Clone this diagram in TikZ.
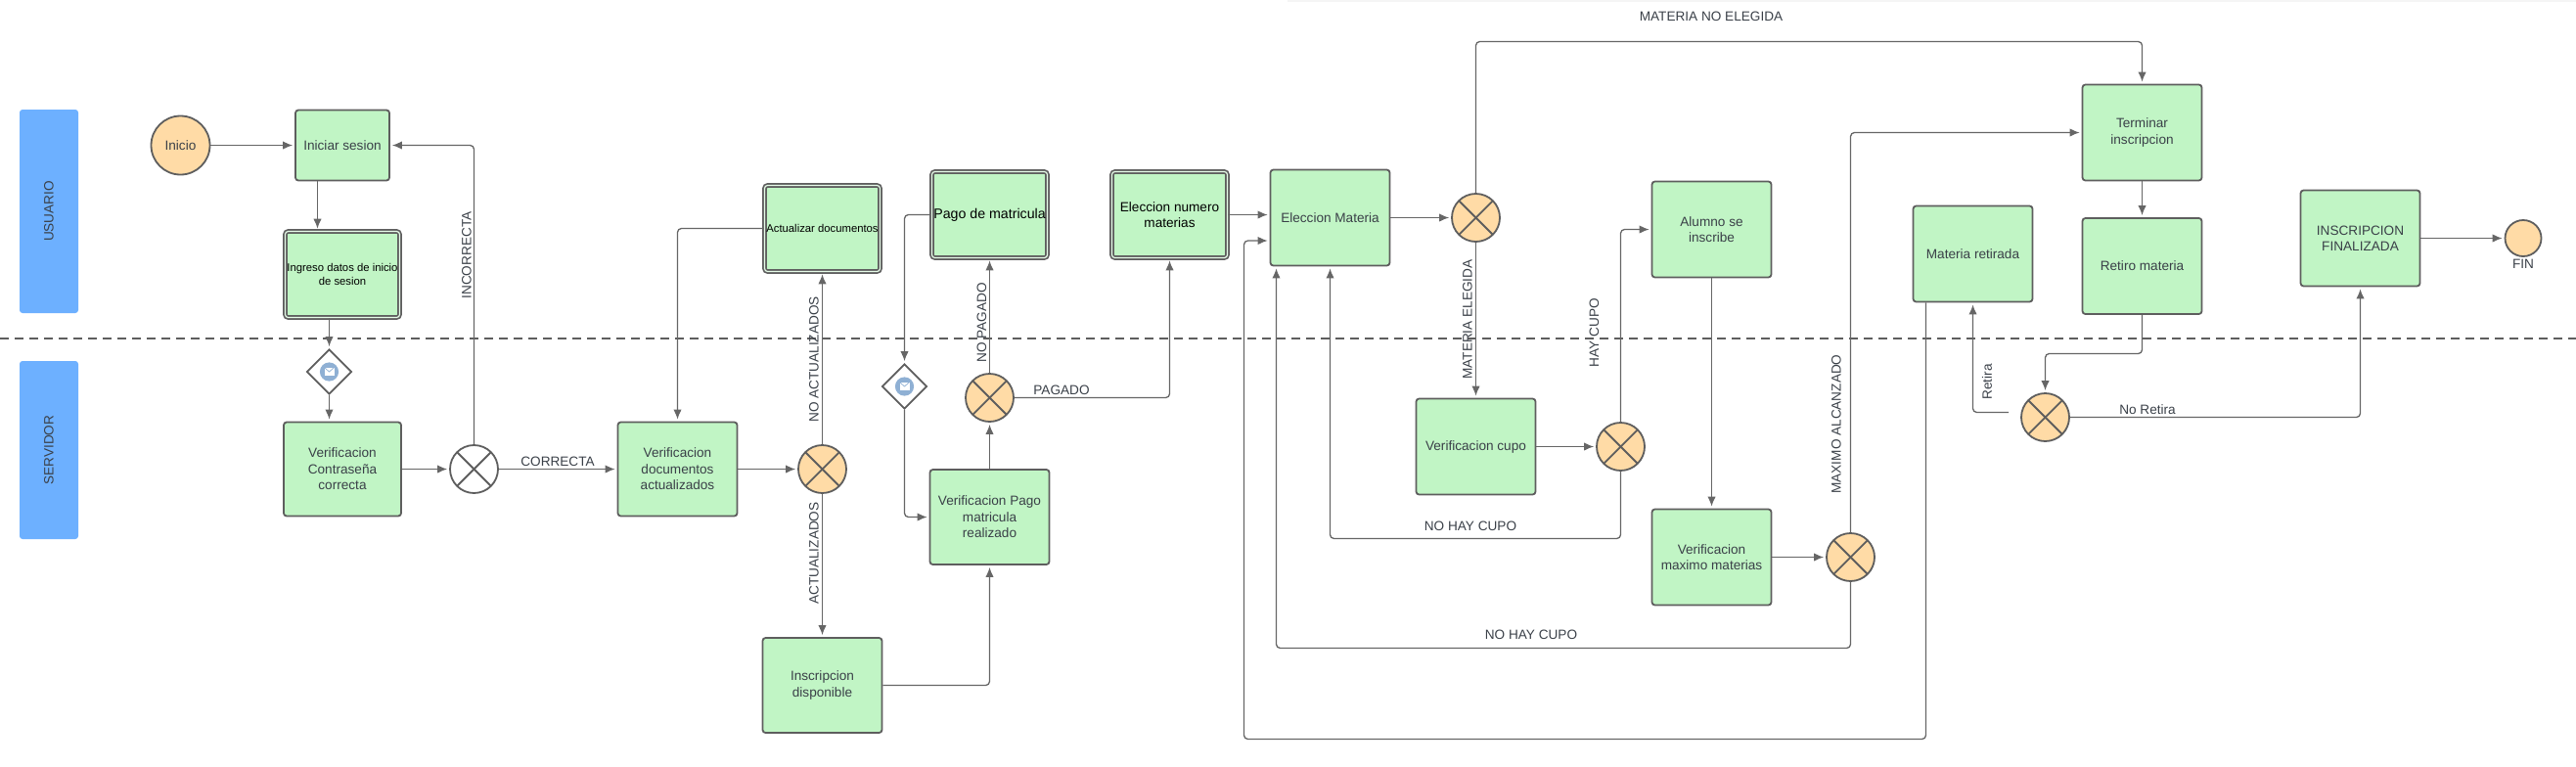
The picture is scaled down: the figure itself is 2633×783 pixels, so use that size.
\documentclass[tikz,border=0pt]{standalone}
\usepackage{fontspec}
\setmainfont{Liberation Sans}
\usetikzlibrary{arrows.meta,shapes.geometric}

\definecolor{taskgreen}{HTML}{C1F5C5}
\definecolor{gateorange}{HTML}{FFDBA6}
\definecolor{lanblue}{HTML}{6DB0FF}
\definecolor{strokegray}{HTML}{5E5E5E}
\definecolor{linegray}{HTML}{666666}
\definecolor{textgray}{HTML}{3A4048}
\definecolor{iconblue}{HTML}{8FB0D4}

\tikzstyle{txt} = [font=\fontsize{6.8}{8.25}\selectfont,text=textgray,align=center,inner sep=0pt]
\tikzstyle{task} = [txt,draw=strokegray,fill=taskgreen,line width=.9pt,rectangle,rounded corners=1.5pt,minimum width=61pt,minimum height=49pt]
\tikzstyle{usertask} = [task,text=black,double=taskgreen!40!white,double distance=.6pt,line width=.85pt,minimum width=59pt,minimum height=44pt]
\tikzstyle{lane} = [txt,fill=lanblue,rectangle,rounded corners=1.5pt,minimum width=30pt,rotate=90]
\tikzstyle{event} = [txt,draw=strokegray,fill=gateorange,line width=.9pt,circle]
\tikzstyle{gate} = [draw=strokegray,line width=.9pt,circle,minimum size=24.5pt,inner sep=0pt,
	path picture={\draw [strokegray,line width=.9pt] (path picture bounding box.center) ++(45:14pt) -- ++(225:28pt) (path picture bounding box.center) ++(135:14pt) -- ++(-45:28pt);}]
\tikzstyle{xor} = [gate,fill=gateorange]
\tikzstyle{msg} = [draw=strokegray,line width=.9pt,fill=white,diamond,minimum width=23pt,minimum height=23pt,inner sep=0pt,
	path picture={\fill [iconblue] (path picture bounding box.center) circle (4.8pt);
		\fill [white] ([shift={(-2.5pt,-2.2pt)}]path picture bounding box.center) rectangle ++(5pt,4.4pt);
		\draw [iconblue,line width=.35pt] ([shift={(-2.5pt,2.2pt)}]path picture bounding box.center) -- (path picture bounding box.center) -- ([shift={(2.5pt,2.2pt)}]path picture bounding box.center);}]
\tikzstyle{conn} = [draw=linegray,line width=.65pt,rounded corners=2pt,-{Latex[length=5pt,width=4.2pt]},shorten >=1pt,color=linegray]
\tikzstyle{lbl} = [txt]

\begin{document}
\begin{tikzpicture}[x=.5pt,y=-.5pt]
	\useasboundingbox (0,0) rectangle (2633,783);
	\fill [black!4] (1316,0) rectangle (2633,2);

	\node (usuario) [lane,minimum width=104pt,minimum height=30pt] at (50,216) {USUARIO};
	\node (servidor) [lane,minimum width=91pt,minimum height=30pt] at (50,460) {SERVIDOR};

	\draw [strokegray,line width=.9pt,dash pattern=on 4.5pt off 3pt] (0,346) -- (2633,346);

	\node (inicio) [event,minimum size=30pt] at (184.5,148.5) {Inicio};
	\node (iniciar) [task,minimum width=48pt,minimum height=36pt] at (350,148.5) {Iniciar sesion};
	\node (ingreso) [usertask,font=\fontsize{5.65}{6.6}\selectfont,minimum width=58.5pt] at (350,280.5) {Ingreso datos de inicio\\de sesion};
	\node (msgpass) [msg] at (336.5,380) {};
	\node (verifpass) [task,minimum width=60pt,minimum height=48pt] at (350,479.5) {Verificacion\\Contraseña\\correcta};
	\node (xpass) [gate,fill=white] at (484.5,479.5) {};

	\node (verifdocs) [task,minimum height=48pt] at (692.5,479.5) {Verificacion\\documentos\\actualizados};
	\node (xdocs) [xor] at (840.5,479.5) {};
	\node (actualizar) [usertask,font=\fontsize{5.65}{6.6}\selectfont] at (840.5,233.5) {Actualizar documentos};
	\node (inscripcion) [task,minimum height=48.5pt] at (840.5,700.5) {Inscripcion\\disponible};

	\node (pago) [usertask,font=\fontsize{7.1}{8.25}\selectfont] at (1011.5,219.5) {Pago de matricula};
	\node (msgpago) [msg] at (924.5,395) {};
	\node (xpago) [xor] at (1011.5,406.5) {};
	\node (verifpago) [task,minimum height=48.5pt] at (1011.5,528.5) {Verificacion Pago\\matricula\\realizado};
	\node (numero) [usertask] at (1195.5,219.5) {Eleccion numero\\materias};

	\node (materia) [task] at (1359.5,222.5) {Eleccion Materia};
	\node (xmateria) [xor] at (1508.5,222.5) {};
	\node (cupo) [task] at (1508.5,456.5) {Verificacion cupo};
	\node (xcupo) [xor] at (1656.5,456.5) {};
	\node (alumno) [task] at (1749.5,234.5) {Alumno se\\inscribe};
	\node (maximo) [task] at (1749.5,569.5) {Verificacion\\maximo materias};
	\node (xmax) [xor] at (1891.5,569.5) {};

	\node (retirada) [task] at (2016.5,259.5) {Materia retirada};
	\node (terminar) [task] at (2189.5,135.5) {Terminar\\inscripcion};
	\node (retiro) [task] at (2189.5,272) {Retiro materia};
	\node (xretiro) [xor] at (2090.5,426.5) {};
	\node (finalizada) [task] at (2412.5,243.5) {INSCRIPCION\\FINALIZADA};
	\node (fin) [event,minimum size=18.5pt] at (2579,243.5) {};

	\node (lblincorrecta) [lbl,rotate=90] at (477,261) {INCORRECTA};
	\node (lblcorrecta) [lbl] at (570,472) {CORRECTA};
	\node (lblnoactual) [lbl,rotate=90] at (832,367.5) {NO ACTUALIZADOS};
	\node (lblactual) [lbl,rotate=90] at (832,565.5) {ACTUALIZADOS};
	\node (lblnopagado) [lbl,rotate=90] at (1003.5,330) {NO PAGADO};
	\node (lblpagado) [lbl] at (1085,398.5) {PAGADO};
	\node (lblnoelegida) [lbl] at (1749,16.5) {MATERIA NO ELEGIDA};
	\node (lblelegida) [lbl,rotate=90] at (1500,326.5) {MATERIA ELEGIDA};
	\node (lblhaycupo) [lbl,rotate=90] at (1629.5,340) {HAY CUPO};
	\node (lblnohay) [lbl] at (1503,537.5) {NO HAY CUPO};
	\node (lblnohaymax) [lbl] at (1565,649) {NO HAY CUPO};
	\node (lblmaximo) [lbl,rotate=90] at (1877,433.5) {MAXIMO ALCANZADO};
	\node (lblretira) [lbl,rotate=90] at (2031,390.5) {Retira};
	\node (lblnoretira) [lbl] at (2195,419) {No Retira};
	\node (lblfin) [lbl] at (2579,269.5) {FIN};

	\coordinate (topturn) at (1508.5,42.5);
	\coordinate (cupoturn) at (1656.5,550.5);
	\coordinate (maxturn) at (1891.5,662.5);
	\coordinate (retiroturn) at (2189.5,361.5);
	\coordinate (retiraend) at (2053,421.5);
	\coordinate (backlow) at (1271.5,755.5);

	\draw [conn] (inicio) -- (iniciar);
	\draw [conn] ([xshift=-12.75pt]iniciar.south) -- ([xshift=-12.75pt]iniciar.south |- ingreso.north);
	\draw [conn] (msgpass.north |- ingreso.south) -- (msgpass.north);
	\draw [conn] (msgpass.south) -- (msgpass.south |- verifpass.north);
	\draw [conn] (verifpass) -- (xpass);
	\draw [conn] (xpass.north) |- (iniciar.east);
	\draw [conn] (xpass) -- (verifdocs);
	\draw [conn] (verifdocs) -- (xdocs);
	\draw [conn] (xdocs) -- (actualizar);
	\draw [conn] (xdocs) -- (inscripcion);
	\draw [conn] (actualizar.west) -| (verifdocs.north);
	\draw [conn] (inscripcion.east) -| (verifpago.south);
	\draw [conn] (verifpago) -- (xpago);
	\draw [conn] (xpago) -- (pago);
	\draw [conn] (pago.west) -| (msgpago.north);
	\draw [conn] (msgpago.south) |- (verifpago.west);
	\draw [conn] (xpago.east) -| (numero.south);
	\draw [conn] (numero.east) -- (numero.east -| materia.west);
	\draw [conn] (materia) -- (xmateria);
	\draw [conn] (xmateria.north) -- (topturn) -| (terminar.north);
	\draw [conn] (xmateria) -- (cupo);
	\draw [conn] (cupo) -- (xcupo);
	\draw [conn] (xcupo.north) |- (alumno.west);
	\draw [conn] (xcupo.south) -- (cupoturn) -| (materia.south);
	\draw [conn] (alumno) -- (maximo);
	\draw [conn] (maximo) -- (xmax);
	\draw [conn] (xmax.north) |- (terminar.west);
	\draw [conn] (xmax.south) -- (maxturn) -| ([xshift=-27.5pt]materia.south);
	\draw [conn] (terminar) -- (retiro);
	\draw [conn] (retiro.south) -- (retiroturn) -| (xretiro.north);
	\draw [conn] (retiraend) -| (retirada.south);
	\draw [conn] (xretiro.east) -| (finalizada.south);
	\draw [conn] (finalizada) -- (fin);
	\draw [conn] ([xshift=-24pt]retirada.south) |- (backlow) |- ([yshift=-11.75pt]materia.west);
\end{tikzpicture}
\end{document}
